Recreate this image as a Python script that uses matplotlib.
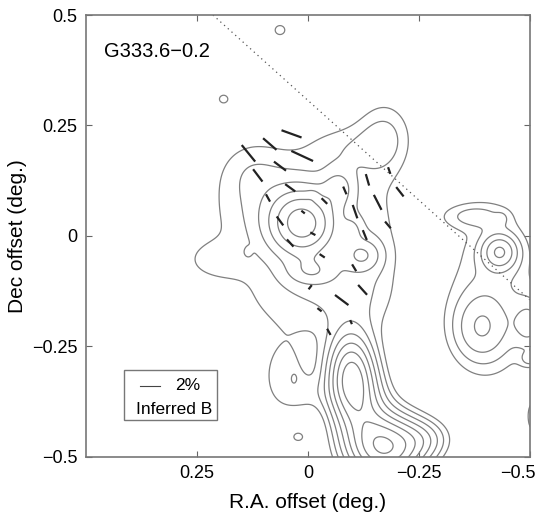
import numpy as np
import matplotlib.pyplot as plt
from matplotlib.patches import Rectangle
from matplotlib.transforms import ScaledTranslation

plt.rcParams['font.family'] = ['Liberation Sans', 'DejaVu Sans']

# 强度分布：用若干高斯团块近似读出的等值线结构 (deg)
blob_x = [0.012, 0.04, 0.07, 0.13, 0.21, -0.175, -0.08, -0.07, -0.122, -0.009,
          -0.15, 0.0, -0.1, -0.097, -0.175, -0.13, 0.055, 0.0, -0.26, 0.03,
          -0.011, -0.1, 0.135,
          -0.432, -0.436, -0.37, -0.388, -0.42, -0.5, -0.5, -0.505,
          0.19, 0.063, -0.315, 0.022]
blob_y = [0.028, -0.01, 0.08, 0.15, -0.055, 0.225, 0.2, 0.11, -0.043, -0.081,
          0.0, -0.15, -0.12, -0.32, -0.48, -0.4, -0.32, -0.36, -0.46, -0.32,
          0.093, 0.013, -0.036,
          -0.036, 0.04, 0.045, -0.21, -0.12, -0.2, -0.28, -0.41,
          0.31, 0.466, 0.51, -0.455]
blob_sx = [0.05, 0.17, 0.1, 0.05, 0.05, 0.045, 0.06, 0.025, 0.03, 0.04,
           0.05, 0.1, 0.06, 0.035, 0.055, 0.04, 0.04, 0.04, 0.04, 0.006,
           0.01, 0.015, 0.006,
           0.028, 0.01, 0.05, 0.045, 0.08, 0.025, 0.015, 0.01,
           0.012, 0.016, 0.018, 0.012]
blob_sy = [0.05, 0.15, 0.09, 0.05, 0.03, 0.06, 0.04, 0.03, 0.025, 0.022,
           0.15, 0.06, 0.07, 0.065, 0.05, 0.06, 0.06, 0.03, 0.03, 0.01,
           0.01, 0.02, 0.008,
           0.028, 0.01, 0.02, 0.055, 0.15, 0.04, 0.012, 0.03,
           0.011, 0.015, 0.01, 0.01]
blob_amp = [5.4, 0.9, 1.0, 0.6, 0.8, 1.5, 0.9, 1.6, 2.0, 1.6,
            0.7, 0.8, 0.6, 8.0, 9.0, 3.0, 1.2, 0.7, 2.0, 0.4,
            0.5, 1.0, 0.4,
            3.6, 0.6, 1.3, 2.4, 1.5, 2.0, 1.2, 1.3,
            1.25, 1.25, 1.3, 1.25]
levels = [1.0, 1.6, 2.4, 3.4, 4.6, 6.0, 7.6, 9.4]

# 偏振矢量（推断磁场方向）：位置、位置角 PA (deg, 北向东)、长度
vec_x = [0.037, 0.134, 0.086, 0.013, 0.113, 0.063, 0.040, 0.090, 0.063, 0.011,
         -0.011, 0.040, -0.037, -0.083, -0.106, -0.128, -0.032, -0.104, -0.134,
         -0.157, -0.180, -0.183, -0.207, -0.123, -0.076, -0.005, -0.026, -0.097,
         -0.047]
vec_y = [0.231, 0.187, 0.208, 0.181, 0.137, 0.158, 0.109, 0.086, 0.034, 0.054,
         0.005, -0.016, 0.079, 0.103, 0.055, 0.002, -0.045, -0.072, 0.127,
         0.076, 0.025, 0.148, 0.100, -0.122, -0.145, -0.116, -0.167, -0.195,
         -0.217]
vec_pa = [70, 39, 49, 65, 37, 53, 54, 29, 36, 51,
          62, 42, 45, 23, 19, 22, 56, 31, 16,
          27, 40, 19, 38, 42, 53, -37, 52, 23,
          29]
vec_len = [0.048, 0.048, 0.040, 0.054, 0.035, 0.034, 0.028, 0.019, 0.025, 0.010,
           0.013, 0.022, 0.018, 0.019, 0.032, 0.024, 0.014, 0.018, 0.027,
           0.038, 0.020, 0.016, 0.027, 0.030, 0.038, 0.012, 0.012, 0.010,
           0.016]

# 银道面（点线）
plane_x = [0.214, -0.5]
plane_y = [0.5, -0.145]

x = np.linspace(-0.55, 0.55, 400)
y = np.linspace(-0.55, 0.55, 400)
X, Y = np.meshgrid(x, y)
Z = np.zeros_like(X)
for bx, by, sx, sy, a in zip(blob_x, blob_y, blob_sx, blob_sy, blob_amp):
    Z += a * np.exp(-0.5 * (((X - bx) / sx) ** 2 + ((Y - by) / sy) ** 2))

fig = plt.figure(figsize=(5.37, 5.18), dpi=100)
ax = fig.add_axes([0.160, 0.118, 0.827, 0.853])

ax.contour(X, Y, Z, levels=levels, colors='#808080', linewidths=0.9)
ax.plot(plane_x, plane_y, linestyle=(0, (1, 3)), color='#555555', linewidth=0.9)

for vx, vy, pa, ln in zip(vec_x, vec_y, vec_pa, vec_len):
    h = ln / 2
    dx = h * np.sin(np.radians(pa))
    dy = h * np.cos(np.radians(pa))
    ax.plot([vx - dx, vx + dx], [vy - dy, vy + dy], color='#222222', linewidth=1.6,
            solid_capstyle='butt')

ax.set_xlim(0.5, -0.5)
ax.set_ylim(-0.5, 0.5)
ax.set_xticks([0.25, 0, -0.25, -0.5])
ax.set_xticklabels(['0.25', '0', '\u22120.25', '\u22120.5'])
ax.set_yticks([0.5, 0.25, 0, -0.25, -0.5])
ax.set_yticklabels(['0.5', '0.25', '0', '\u22120.25', '\u22120.5'])
ax.tick_params(direction='in', top=True, right=True, length=4, color='#666666',
               labelsize=13, pad=6)
# 最右边的刻度标签往左挪，避免被裁掉
last = ax.get_xticklabels()[-1]
last.set_transform(last.get_transform() + ScaledTranslation(-0.12, 0, fig.dpi_scale_trans))
for s in ax.spines.values():
    s.set_color('#777777')
    s.set_linewidth(1.2)

ax.set_xlabel('R.A. offset (deg.)', fontsize=15, labelpad=8)
ax.set_ylabel('Dec offset (deg.)', fontsize=15, labelpad=4)

ax.text(0.04, 0.905, 'G333.6\u22120.2', transform=ax.transAxes, fontsize=14.5)

# 图例框
ax.add_patch(Rectangle((0.086, 0.084), 0.21, 0.112, transform=ax.transAxes,
                       facecolor='white', edgecolor='#777777', linewidth=1.0, zorder=5))
ax.plot([0.122, 0.167], [0.161, 0.161], transform=ax.transAxes, color='#444444',
        linewidth=0.8, zorder=6)
ax.text(0.20, 0.161, '2%', transform=ax.transAxes, fontsize=12.5, va='center', zorder=6)
ax.text(0.113, 0.108, 'Inferred B', transform=ax.transAxes, fontsize=12.5,
        va='center', zorder=6)

fig.savefig('out.png', dpi=100)
